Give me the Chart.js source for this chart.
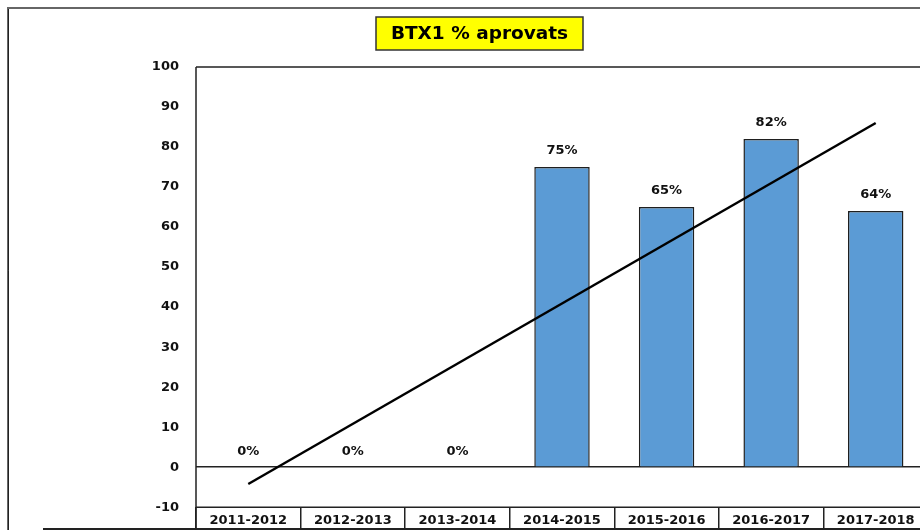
<!DOCTYPE html>
<html>
<head>
<meta charset="utf-8">
<style>
  html, body { margin: 0; padding: 0; background: #fff; overflow: hidden; }
  #wrap { position: absolute; left: 0; top: 0; width: 930px; height: 532px; }
</style>
<script src="https://cdn.jsdelivr.net/npm/chart.js@4/dist/chart.umd.min.js"></script>
</head>
<body>
<div id="wrap"><canvas id="c" width="930" height="532"></canvas></div>
<script>
  // dades llegides del gràfic
  var cursos = ['2011-2012', '2012-2013', '2013-2014', '2014-2015', '2015-2016', '2016-2017', '2017-2018'];
  var aprovats = [0, 0, 0, 75, 65, 82, 64];
  var tendencia = [-4.2, null, null, null, null, null, 86];
  var titol = 'BTX1 % aprovats';

  var FONT = 'DejaVu Sans';
  var INK = '#111';

  // marc exterior, títol groc, etiquetes de valor i vora inferior de la taula
  var decor = {
    id: 'decor',
    beforeDraw: function (chart) {
      var ctx = chart.ctx;
      ctx.save();
      ctx.fillStyle = '#fff';
      ctx.fillRect(0, 0, chart.width, chart.height);
      ctx.strokeStyle = '#666';
      ctx.lineWidth = 2;
      ctx.beginPath();
      ctx.moveTo(8, 532);
      ctx.lineTo(8, 8);
      ctx.lineTo(930, 8);
      ctx.stroke();
      ctx.strokeStyle = '#222';
      ctx.lineWidth = 1;
      ctx.beginPath();
      ctx.moveTo(8.5, 9);
      ctx.lineTo(8.5, 532);
      ctx.stroke();
      ctx.restore();
    },
    afterDraw: function (chart) {
      var ctx = chart.ctx;
      var area = chart.chartArea;
      ctx.save();
      // títol
      ctx.fillStyle = '#ffff00';
      ctx.fillRect(376, 17, 207, 33);
      ctx.strokeStyle = '#333';
      ctx.lineWidth = 1.5;
      ctx.strokeRect(376, 17, 207, 33);
      ctx.font = 'bold 18.5px "' + FONT + '"';
      ctx.fillStyle = '#000';
      ctx.textAlign = 'center';
      ctx.textBaseline = 'middle';
      ctx.fillText(titol, 479.5, 34);
      ctx.restore();

      // etiquetes de percentatge
      ctx.save();
      ctx.font = 'bold 13px "' + FONT + '"';
      ctx.fillStyle = INK;
      ctx.textAlign = 'center';
      ctx.textBaseline = 'middle';
      var meta = chart.getDatasetMeta(0);
      meta.data.forEach(function (bar, i) {
        ctx.fillText(aprovats[i] + '%', bar.x, bar.y - 16);
      });
      ctx.restore();

      // vores de la taula de categories
      ctx.save();
      ctx.strokeStyle = '#222';
      ctx.lineWidth = 2;
      ctx.beginPath();
      ctx.moveTo(43, 529);
      ctx.lineTo(930, 529);
      ctx.stroke();
      ctx.lineWidth = 1.5;
      ctx.beginPath();
      ctx.moveTo(area.left, area.bottom);
      ctx.lineTo(930, area.bottom);
      ctx.moveTo(area.left, area.top);
      ctx.lineTo(930, area.top);
      ctx.moveTo(area.left, area.top);
      ctx.lineTo(area.left, 532);
      ctx.stroke();
      ctx.restore();
    }
  };

  new Chart(document.getElementById('c'), {
    data: {
      labels: cursos,
      datasets: [
        {
          type: 'bar',
          label: '% aprovats',
          data: aprovats,
          backgroundColor: '#5b9bd5',
          borderColor: '#1f1f1f',
          borderWidth: 1.5,
          barPercentage: 0.53,
          categoryPercentage: 1,
          order: 2
        },
        {
          type: 'line',
          label: 'Tendència',
          data: tendencia,
          borderColor: '#000',
          borderWidth: 2.5,
          pointRadius: 0,
          spanGaps: true,
          fill: false,
          order: 1
        }
      ]
    },
    options: {
      responsive: false,
      animation: false,
      layout: { padding: { top: 67, left: 0, right: 2, bottom: 0 } },
      plugins: {
        legend: { display: false },
        title: { display: false },
        tooltip: { enabled: false }
      },
      scales: {
        x: {
          offset: true,
          border: { display: false },
          grid: {
            offset: true,
            drawOnChartArea: false,
            drawTicks: true,
            tickLength: 23,
            color: '#222',
            lineWidth: 1.5
          },
          ticks: {
            font: { family: FONT, weight: 'bold', size: 13 },
            color: INK,
            padding: -17,
            maxRotation: 0,
            autoSkip: false
          },
          afterFit: function (s) { s.height = 19; }
        },
        y: {
          min: -10,
          max: 100,
          border: { display: false },
          grid: {
            drawTicks: false,
            color: function (c) { return c.tick.value === 0 ? '#222' : 'rgba(0,0,0,0)'; },
            lineWidth: 1.5
          },
          ticks: {
            stepSize: 10,
            padding: 17,
            font: { family: FONT, weight: 'bold', size: 13 },
            color: INK
          },
          afterFit: function (s) { s.width = 196; }
        }
      }
    },
    plugins: [decor]
  });
</script>
</body>
</html>
